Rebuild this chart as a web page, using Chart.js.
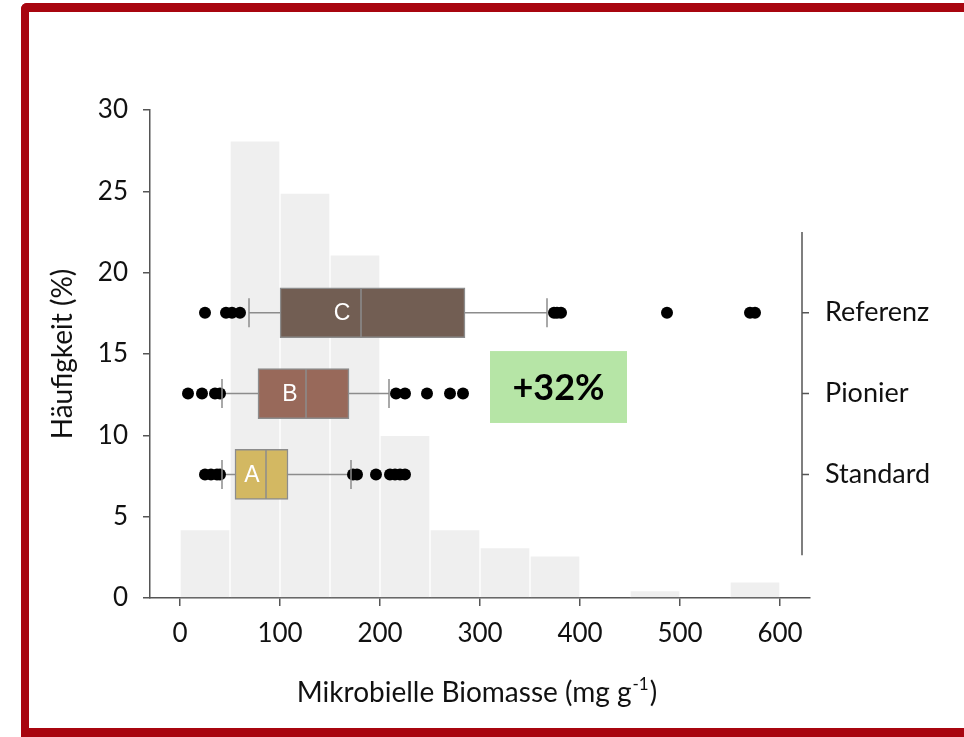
<!DOCTYPE html>
<html>
<head>
<meta charset="utf-8">
<script src="https://cdn.jsdelivr.net/npm/chart.js@4.4.0/dist/chart.umd.min.js"></script>
<style>
  html, body { margin: 0; padding: 0; background: #fff; }
  body { width: 964px; height: 737px; overflow: hidden; position: relative; }
  #frame {
    position: absolute; left: 21px; top: 3px; width: 990px; height: 734px;
    box-sizing: border-box; border: 9px solid #a8050f; border-right: none;
    border-left-width: 8px; border-top-left-radius: 6px;
  }
  #myChart { position: absolute; left: 0; top: 0; }
</style>
</head>
<body>
<div id="frame"></div>
<canvas id="myChart" width="964" height="737"></canvas>
<script>
// histogram (bins of 50 mg/g)
const binMids = [25, 75, 125, 175, 225, 275, 325, 375, 425, 475, 525, 575];
const freqPct = [4.2, 28.1, 24.9, 21.1, 10.0, 4.2, 3.1, 2.6, 0, 0.45, 0, 1.0];
const xTicks = [0, 100, 200, 300, 400, 500, 600];

// box plots, top to bottom
const groups = ["Referenz", "Pionier", "Standard"];
const letters = ["C", "B", "A"];
const whiskLo = [69, 42, 42];
const q1 = [100, 78, 55];
const median = [181, 126, 86];
const q3 = [285, 169, 108];
const whiskHi = [367, 209, 171];
const outliers = [
    [25, 46, 52, 60, 374, 377, 381, 487, 570, 575],
    [8, 22, 35, 40, 216, 225, 247, 270, 283],
    [25, 31, 37, 40, 173, 177, 196, 210, 215, 220, 225]
];
const boxColors = ["#725e53", "#98695a", "#d3b862"];
const changeLabel = "+32%";

const font = "Lato";
const lineGray = "#8c8c8c";
const axisGray = "#555";

// group i sits at row i + 1 on the hidden y2 scale
const whiskerPts = [];
groups.forEach((g, i) => {
    whiskerPts.push({x: whiskLo[i], y: i + 1}, {x: whiskHi[i], y: i + 1}, {x: whiskHi[i], y: null});
});
const capPts = [];
groups.forEach((g, i) => {
    capPts.push({x: whiskLo[i], y: i + 1}, {x: whiskHi[i], y: i + 1});
});
const outlierPts = [];
outliers.forEach((list, i) => list.forEach(v => outlierPts.push({x: v, y: i + 1})));

const overlay = {
    id: "overlay",
    afterDraw(chart) {
        const {ctx, chartArea, scales: {x, y, y2}} = chart;
        ctx.save();

        // box letters
        const letterX = [162, 110, 72];
        ctx.fillStyle = "#fff";
        ctx.font = "23px 'Liberation Sans'";
        ctx.textAlign = "center";
        ctx.textBaseline = "middle";
        letters.forEach((l, i) => ctx.fillText(l, x.getPixelForValue(letterX[i]), y2.getPixelForValue(i + 1) + 1));

        // +32% note
        const bx0 = x.getPixelForValue(310), bx1 = x.getPixelForValue(447);
        const by0 = y.getPixelForValue(15.18), by1 = y.getPixelForValue(10.76);
        ctx.fillStyle = "#b6e5a6";
        ctx.fillRect(bx0, by0, bx1 - bx0, by1 - by0);
        ctx.fillStyle = "#000";
        ctx.font = "bold 36px " + font;
        ctx.fillText(changeLabel, (bx0 + bx1) / 2, (by0 + by1) / 2 + 1);

        // right-hand group axis
        const ax = x.getPixelForValue(622);
        ctx.strokeStyle = axisGray;
        ctx.lineWidth = 1.5;
        ctx.beginPath();
        ctx.moveTo(ax, y2.getPixelForValue(0));
        ctx.lineTo(ax, y2.getPixelForValue(groups.length + 1));
        groups.forEach((g, i) => {
            const py = y2.getPixelForValue(i + 1);
            ctx.moveTo(ax, py);
            ctx.lineTo(ax + 7, py);
        });
        ctx.stroke();
        ctx.fillStyle = "#111";
        ctx.font = "27px " + font;
        ctx.textAlign = "left";
        groups.forEach((g, i) => ctx.fillText(g, ax + 23, y2.getPixelForValue(i + 1)));

        // x title with superscript
        const t1 = "Mikrobielle Biomasse (mg g", sup = "-1", t2 = ")";
        ctx.font = "28px " + font;
        const w1 = ctx.measureText(t1).width, w3 = ctx.measureText(t2).width;
        ctx.font = "17px " + font;
        const w2 = ctx.measureText(sup).width;
        let tx = (chartArea.left + chartArea.right) / 2 - 4 - (w1 + w2 + w3) / 2;
        const base = 702;
        ctx.textBaseline = "alphabetic";
        ctx.font = "28px " + font;
        ctx.fillText(t1, tx, base);
        ctx.font = "17px " + font;
        ctx.fillText(sup, tx + w1 + 1, base - 12);
        ctx.font = "28px " + font;
        ctx.fillText(t2, tx + w1 + w2 + 2, base);
        ctx.restore();
    }
};

const ctx = document.getElementById("myChart");
const config = {
    type: "scatter",
    data: {
        datasets: [{
            type: "bar",
            data: binMids.map((m, i) => ({x: m, y: freqPct[i]})),
            grouped: false,
            backgroundColor: "#efefef",
            borderColor: "#fff",
            borderWidth: 1,
            barPercentage: 1,
            categoryPercentage: 1,
            order: 6
        }, {
            type: "line",
            data: whiskerPts,
            yAxisID: "y2",
            borderColor: lineGray,
            borderWidth: 1.5,
            pointRadius: 0,
            spanGaps: false,
            order: 5
        }, {
            type: "bar",
            indexAxis: "y",
            xAxisID: "x2",
            yAxisID: "y2",
            grouped: false,
            data: groups.map((g, i) => ({x: [q1[i], q3[i]], y: i + 1})),
            backgroundColor: boxColors,
            borderColor: lineGray,
            borderWidth: 1.5,
            borderSkipped: false,
            barPercentage: 1,
            categoryPercentage: 1,
            maxBarThickness: 50,
            order: 4
        }, {
            data: groups.map((g, i) => ({x: median[i], y: i + 1})),
            yAxisID: "y2",
            pointStyle: "line",
            rotation: 90,
            radius: 24.5,
            borderColor: lineGray,
            borderWidth: 1.5,
            order: 3
        }, {
            data: outlierPts,
            yAxisID: "y2",
            pointStyle: "circle",
            radius: 6,
            backgroundColor: "#000",
            borderWidth: 0,
            order: 2
        }, {
            data: capPts,
            yAxisID: "y2",
            pointStyle: "line",
            rotation: 90,
            radius: 14.5,
            borderColor: lineGray,
            borderWidth: 1.5,
            order: 1
        }]
    },
    options: {
        responsive: false,
        animation: false,
        layout: {
            padding: {left: 30, right: 154, top: 110, bottom: 29}
        },
        plugins: {
            legend: {display: false},
            tooltip: {enabled: false}
        },
        scales: {
            x: {
                type: "linear",
                min: -30,
                max: 630,
                offset: false,
                afterBuildTicks: s => { s.ticks = xTicks.map(v => ({value: v})); },
                afterFit: s => { s.height = 110; },
                grid: {offset: false, drawOnChartArea: false, tickLength: 8, color: axisGray, lineWidth: 1.5},
                border: {color: axisGray, width: 1.5},
                ticks: {font: {family: font, size: 26}, color: "#111", padding: 12}
            },
            y: {
                type: "linear",
                min: 0,
                max: 30,
                offset: false,
                afterFit: s => { s.width = 120; },
                grid: {offset: false, drawOnChartArea: false, tickLength: 7, color: axisGray, lineWidth: 1.5},
                border: {color: axisGray, width: 1.5},
                ticks: {stepSize: 5, font: {family: font, size: 26}, color: "#111", padding: 15},
                title: {
                    display: true,
                    text: "Häufigkeit (%)",
                    font: {family: font, size: 28},
                    color: "#111",
                    padding: {top: 16, bottom: 0}
                }
            },
            x2: {type: "linear", display: false, offset: false, grid: {offset: false}, min: -30, max: 630},
            y2: {
                type: "linear", display: false, offset: false, grid: {offset: false},
                reverse: true, min: -1.51, max: 4.53,
                afterBuildTicks: s => { s.ticks = groups.map((g, i) => ({value: i + 1})); }
            }
        }
    },
    plugins: [overlay]
};
var myChart = new Chart(ctx, config);
</script>
</body>
</html>
